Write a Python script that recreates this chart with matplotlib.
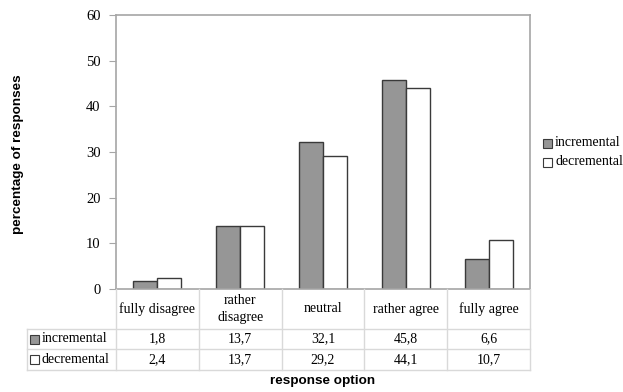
import matplotlib.pyplot as plt
import numpy as np
from matplotlib.lines import Line2D
from matplotlib.patches import Rectangle
from matplotlib.transforms import blended_transform_factory

categories = ["fully disagree", "rather\ndisagree", "neutral", "rather agree", "fully agree"]
incremental = [1.8, 13.7, 32.1, 45.8, 6.6]
decremental = [2.4, 13.7, 29.2, 44.1, 10.7]
series_names = ["incremental", "decremental"]
yticks = [0, 10, 20, 30, 40, 50, 60]

W, H = 623, 392
SERIF = "Liberation Serif"
SANS = "Liberation Sans"
GRAY_FILL = "#969696"
EDGE = "#3a3a3a"
GRID = "#d9d9d9"
SPINE = "#a6a6a6"
FS = 10


def fx(px):
    return px / W


def fy(py):
    return 1 - py / H


fig = plt.figure(figsize=(W / 100, H / 100), dpi=100)
ax = fig.add_axes([fx(116), fy(289), fx(530) - fx(116), fy(15) - fy(289)])

x = np.arange(len(categories))
w = 0.29
ax.bar(x - w / 2, incremental, w, color=GRAY_FILL, edgecolor=EDGE, linewidth=1.0)
ax.bar(x + w / 2, decremental, w, color="white", edgecolor=EDGE, linewidth=1.0)

ax.set_xlim(-0.5, len(categories) - 0.5)
ax.set_ylim(0, 60)
ax.set_yticks(yticks)
ax.set_yticklabels([str(t) for t in yticks], fontfamily=SERIF, fontsize=10.5)
ax.set_xticks([])
ax.tick_params(axis="y", length=5, color=SPINE, pad=6)
for spine in ax.spines.values():
    spine.set_color(SPINE)
    spine.set_linewidth(1.2)

# --- data table under the plot ---
tr = blended_transform_factory(ax.transData, fig.transFigure)
row_top, row1, row2, row_bot = fy(289), fy(329), fy(349), fy(370)

for b in np.arange(-0.5, len(categories), 1.0)[1:]:
    fig.add_artist(Line2D([b, b], [row_top, row_bot], transform=tr, color=GRID, lw=1))
fig.add_artist(Line2D([fx(116), fx(116)], [row_top, row_bot], transform=fig.transFigure, color=GRID, lw=1))
fig.add_artist(Line2D([fx(27), fx(27)], [row1, row_bot], transform=fig.transFigure, color=GRID, lw=1))
for yy in (row1, row2, row_bot):
    fig.add_artist(Line2D([fx(27), fx(530)], [yy, yy], transform=fig.transFigure, color=GRID, lw=1))

for i, cat in enumerate(categories):
    fig.text(x[i], (row_top + row1) / 2, cat, transform=tr, ha="center", va="center",
             fontfamily=SERIF, fontsize=FS, linespacing=1.45)
    fig.text(x[i], (row1 + row2) / 2, f"{incremental[i]:.1f}".replace(".", ","), transform=tr,
             ha="center", va="center", fontfamily=SERIF, fontsize=FS)
    fig.text(x[i], (row2 + row_bot) / 2, f"{decremental[i]:.1f}".replace(".", ","), transform=tr,
             ha="center", va="center", fontfamily=SERIF, fontsize=FS)

# row headers with legend keys
for (ya, yb), name, col in zip([(row1, row2), (row2, row_bot)], series_names, [GRAY_FILL, "white"]):
    yc = (ya + yb) / 2
    fig.add_artist(Rectangle((fx(30), yc - 4.5 / H), 9 / W, 9 / H, transform=fig.transFigure,
                             facecolor=col, edgecolor=EDGE, lw=0.8))
    fig.text(fx(42), yc, name, ha="left", va="center", fontfamily=SERIF, fontsize=FS)

# legend on the right
for yy, name, col in zip([143, 162], series_names, [GRAY_FILL, "white"]):
    fig.add_artist(Rectangle((fx(543), fy(yy) - 4.5 / H), 9 / W, 9 / H, transform=fig.transFigure,
                             facecolor=col, edgecolor=EDGE, lw=0.8))
    fig.text(fx(555), fy(yy), name, ha="left", va="center", fontfamily=SERIF, fontsize=FS)

fig.text(fx(18), fy(154), "percentage of responses", rotation=90, ha="center", va="center",
         fontfamily=SANS, fontweight="bold", fontsize=9.7)
fig.text(fx(323), fy(381), "response option", ha="center", va="center",
         fontfamily=SANS, fontweight="bold", fontsize=9.7)

fig.savefig("out.png", dpi=100, facecolor="white")
